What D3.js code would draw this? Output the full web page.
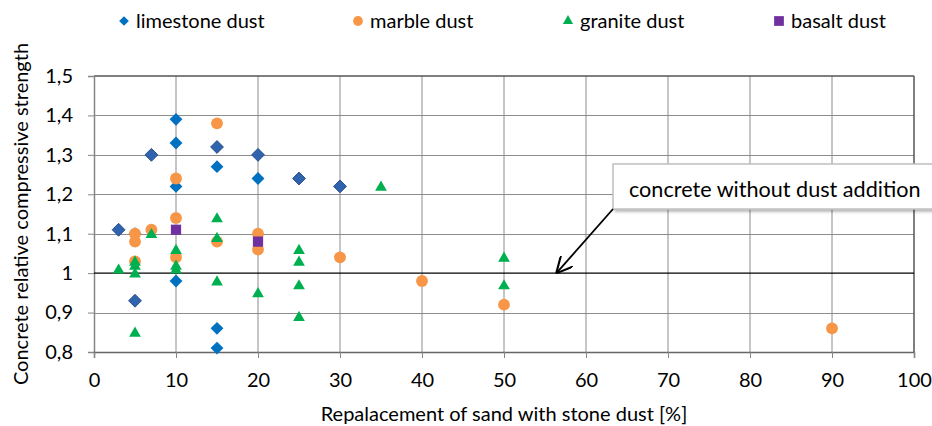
<!DOCTYPE html>
<html>
<head>
<meta charset="utf-8">
<script src="https://cdn.jsdelivr.net/npm/d3@7"></script>
<style>
  body { margin: 0; background: #fff; }
  text { font-family: Lato, "Open Sans", sans-serif; fill: #000; }
</style>
</head>
<body>
<div id="chart"></div>
<script>
// data: [replacement %, relative strength]
var limestoneDust = [[10,1.39],[10,1.33],[15,1.27],[10,1.22],[20,1.24],[5,1.10],[10,0.98],[15,0.86],[15,0.81]];
var limestoneDust2 = [[7,1.30],[15,1.32],[20,1.30],[25,1.24],[30,1.22],[3,1.11],[5,0.93]];
var marbleDust = [[15,1.38],[10,1.24],[10,1.14],[5,1.10],[7,1.11],[5,1.08],[20,1.10],[15,1.08],[20,1.06],[10,1.04],[30,1.04],[5,1.03],[40,0.98],[50,0.92],[90,0.86]];
var graniteDust = [[3,1.01],[5,1.03],[5,1.02],[5,1.00],[5,0.85],[7,1.10],[10,1.06],[10,1.02],[10,1.01],[15,1.14],[15,1.09],[15,0.98],[20,0.95],[25,1.06],[25,1.03],[25,0.97],[25,0.89],[35,1.22],[50,1.04],[50,0.97]];
var basaltDust = [[10,1.11],[20,1.08]];
var xTicks = [0,10,20,30,40,50,60,70,80,90,100];
var yTicks = [0.8,0.9,1.0,1.1,1.2,1.3,1.4,1.5];
var seriesNames = ["limestone dust","marble dust","granite dust","basalt dust"];

var W = 932, H = 426;
var svg = d3.select("#chart").append("svg").attr("width", W).attr("height", H);

var x = d3.scaleLinear().domain([0,100]).range([94,914]);
var y = d3.scaleLinear().domain([0.8,1.5]).range([352,76]);

// gridlines
svg.append("g").selectAll("line").data(xTicks.slice(1,-1)).enter().append("line")
    .attr("x1", d => x(d)).attr("x2", d => x(d))
    .attr("y1", y(1.5)).attr("y2", y(0.8))
    .attr("stroke", "#8c8c8c").attr("stroke-width", 1);
svg.append("g").selectAll("line").data(yTicks.filter(d => d > 0.8 && d < 1.5 && d != 1.0)).enter().append("line")
    .attr("x1", x(0)).attr("x2", x(100))
    .attr("y1", d => Math.round(y(d)) + 0.5).attr("y2", d => Math.round(y(d)) + 0.5)
    .attr("stroke", "#8c8c8c").attr("stroke-width", 1);

// plot border
svg.append("line").attr("x1", x(0)).attr("x2", x(100)).attr("y1", y(1.5)).attr("y2", y(1.5))
    .attr("stroke", "#555").attr("stroke-width", 1.5);
svg.append("line").attr("x1", x(100)).attr("x2", x(100)).attr("y1", y(1.5)).attr("y2", y(0.8))
    .attr("stroke", "#555").attr("stroke-width", 1.5);

// axes
var yAxis = svg.append("g").attr("transform", "translate(" + x(0) + ",0)")
    .call(d3.axisLeft(y).tickValues(yTicks).tickSize(6).tickPadding(15)
        .tickFormat(d => d3.format(".1f")(d).replace(".", ",").replace("1,0", "1")));
var xAxis = svg.append("g").attr("transform", "translate(0," + y(0.8) + ")")
    .call(d3.axisBottom(x).tickValues(xTicks).tickSize(6).tickPadding(15));
[yAxis, xAxis].forEach(function(a) {
    a.select(".domain").attr("stroke", "#868686").attr("stroke-width", 1.5);
    a.selectAll(".tick line").attr("stroke", "#868686");
    a.selectAll("text").style("font-size", "20px").attr("fill", "#000");
});
xAxis.select(".domain").attr("stroke", "#666");

// reference line at 1
svg.append("line").attr("x1", x(0)).attr("x2", x(100)).attr("y1", y(1)).attr("y2", y(1))
    .attr("stroke", "#000").attr("stroke-width", 1.3);

// symbols
var shapes = {
    diamond: d3.symbol().type(d3.symbolDiamond2).size(105),
    circle: d3.symbol().type(d3.symbolCircle).size(110),
    triangle: d3.symbol().type(d3.symbolTriangle).size(60),
    square: d3.symbol().type(d3.symbolSquare).size(105)
};

function drawSeries(data, shape, fill, stroke, dy) {
    svg.append("g").selectAll("path").data(data).enter().append("path")
        .attr("d", shapes[shape])
        .attr("transform", d => "translate(" + x(d[0]) + "," + (y(d[1]) + (dy || 0)) + ")")
        .attr("fill", fill)
        .attr("stroke", stroke || "none")
        .attr("stroke-width", 1);
}
drawSeries(limestoneDust2, "diamond", "#2f63ad", "#2a4f8f");
drawSeries(limestoneDust, "diamond", "#0070c0");
drawSeries(marbleDust, "circle", "#f79646");
drawSeries(graniteDust, "triangle", "#00b050", null, 1);
drawSeries(basaltDust, "square", "#7030a0");

// legend
var legendItems = [
    {name: seriesNames[0], shape: "diamond", fill: "#0070c0", x: 124},
    {name: seriesNames[1], shape: "circle", fill: "#f79646", x: 358},
    {name: seriesNames[2], shape: "triangle", fill: "#00b050", x: 568},
    {name: seriesNames[3], shape: "square", fill: "#7030a0", x: 779}
];
var lg = svg.append("g").selectAll("g").data(legendItems).enter().append("g")
    .attr("transform", d => "translate(" + d.x + ",21)");
lg.append("path")
    .attr("d", d => d3.symbol().type({diamond: d3.symbolDiamond2, circle: d3.symbolCircle, triangle: d3.symbolTriangle, square: d3.symbolSquare}[d.shape])
        .size({diamond: 60, circle: 75, triangle: 45, square: 95}[d.shape])())
    .attr("fill", d => d.fill);
lg.append("text").attr("x", 12).attr("y", 7).style("font-size", "20px").text(d => d.name);

// axis titles
svg.append("text").attr("x", 504).attr("y", 421).attr("text-anchor", "middle")
    .style("font-size", "20px").text("Repalacement of sand with stone dust [%]");
svg.append("text").attr("transform", "translate(28,214) rotate(-90)").attr("text-anchor", "middle")
    .style("font-size", "20px").text("Concrete relative compressive strength");

// callout
var defs = svg.append("defs");
var f = defs.append("filter").attr("id", "shadow").attr("x", "-10%").attr("y", "-20%").attr("width", "130%").attr("height", "160%");
f.append("feDropShadow").attr("dx", 2).attr("dy", 2).attr("stdDeviation", 1.5).attr("flood-color", "#000").attr("flood-opacity", 0.3);
svg.append("rect").attr("x", 613).attr("y", 164).attr("width", 340).attr("height", 45)
    .attr("fill", "#fff").attr("stroke", "#c0c0c0").attr("stroke-width", 1.5).attr("filter", "url(#shadow)");
svg.append("text").attr("x", 629).attr("y", 197).style("font-size", "21.6px").text("concrete without dust addition");

defs.append("marker").attr("id", "arrow").attr("viewBox", "0 0 10 10").attr("refX", 9).attr("refY", 5)
    .attr("markerWidth", 9).attr("markerHeight", 9).attr("orient", "auto")
    .append("path").attr("d", "M0,0 L10,5 L0,10").attr("fill", "none").attr("stroke", "#000").attr("stroke-width", 1.3);
svg.append("line").attr("x1", 613).attr("y1", 209).attr("x2", x(56.5)).attr("y2", y(1) - 1)
    .attr("stroke", "#000").attr("stroke-width", 1.8).attr("marker-end", "url(#arrow)");
</script>
</body>
</html>
